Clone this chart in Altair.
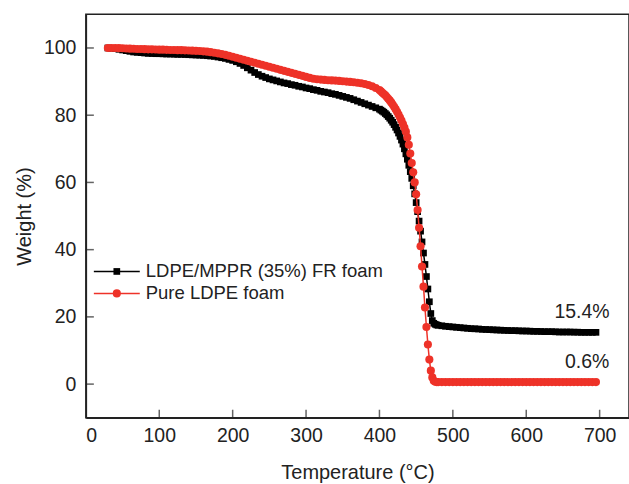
import altair as alt
import pandas as pd

# TGA curves: temperature (°C) and remaining weight (%)
fr_temp = [
    30, 35, 40, 45, 50, 55, 60, 65, 70, 75,
    80, 85, 90, 95, 100, 105, 110, 115, 120, 125,
    130, 135, 140, 145, 150, 155, 160, 165, 170, 175,
    180, 185, 190, 195, 200, 205, 210, 215, 220, 225,
    230, 235, 240, 245, 250, 255, 260, 265, 270, 275,
    280, 285, 290, 295, 300, 305, 310, 315, 320, 325,
    330, 335, 340, 345, 350, 355, 360, 365, 370, 375,
    380, 385, 390, 395, 400,
    402, 404, 406, 408, 410, 412, 414, 416, 418, 420,
    422, 424, 426, 428, 430, 432, 434, 436, 438, 440,
    442, 444, 446, 448, 450, 452, 454, 456, 458, 460,
    462, 464, 466, 468, 470, 472, 474, 476, 478,
    480, 485, 490, 495, 500, 505, 510, 515, 520, 525,
    530, 535, 540, 545, 550, 555, 560, 565, 570, 575,
    580, 585, 590, 595, 600, 605, 610, 615, 620, 625,
    630, 635, 640, 645, 650, 655, 660, 665, 670, 675,
    680, 685, 690, 695,
]
fr_weight = [
    100.0, 99.9, 99.8, 99.6, 99.4, 99.2, 99.0, 98.8, 98.7, 98.6,
    98.5, 98.4, 98.35, 98.3, 98.3, 98.25, 98.2, 98.2, 98.15, 98.1,
    98.1, 98.05, 98.0, 97.95, 97.9, 97.85, 97.8, 97.7, 97.6, 97.5,
    97.3, 97.1, 96.9, 96.6, 96.3, 95.9, 95.4, 94.8, 94.1, 93.4,
    92.7, 92.1, 91.6, 91.2, 90.8, 90.5, 90.2, 89.9, 89.6, 89.4,
    89.1, 88.9, 88.6, 88.4, 88.1, 87.9, 87.6, 87.4, 87.1, 86.9,
    86.7, 86.4, 86.2, 85.9, 85.6, 85.3, 85.0, 84.6, 84.2, 83.8,
    83.4, 83.0, 82.6, 82.2, 81.8,
    81.5, 81.2, 80.9, 80.5, 80.1, 79.6, 79.1, 78.5, 77.9, 77.2,
    76.4, 75.6, 74.7, 73.7, 72.6, 71.4, 70.0, 68.5, 66.9, 65.1,
    63.2, 61.2, 59.0, 56.6, 54.0, 51.3, 48.5, 45.5, 42.3, 39.0,
    35.6, 32.0, 28.3, 24.5, 21.0, 18.9, 18.1, 17.8, 17.6,
    17.5, 17.35, 17.2, 17.1, 17.0, 16.9, 16.8, 16.7, 16.6, 16.5,
    16.45, 16.4, 16.3, 16.25, 16.2, 16.15, 16.1, 16.05, 16.0, 15.95,
    15.9, 15.9, 15.85, 15.8, 15.8, 15.75, 15.7, 15.7, 15.65, 15.6,
    15.6, 15.6, 15.55, 15.5, 15.5, 15.5, 15.5, 15.45, 15.45, 15.4,
    15.4, 15.4, 15.4, 15.4,
]

pure_temp = list(fr_temp)
pure_weight = [
    100.0, 100.0, 100.0, 99.95, 99.9, 99.85, 99.8, 99.75, 99.7, 99.7,
    99.65, 99.6, 99.6, 99.55, 99.5, 99.5, 99.45, 99.4, 99.4, 99.35,
    99.35, 99.3, 99.25, 99.2, 99.15, 99.1, 99.0, 98.9, 98.75, 98.6,
    98.4, 98.2, 97.95, 97.7, 97.4, 97.1, 96.8, 96.5, 96.2, 95.9,
    95.6, 95.3, 95.0, 94.7, 94.4, 94.1, 93.8, 93.5, 93.2, 92.9,
    92.6, 92.3, 92.0, 91.7, 91.4, 91.1, 90.85, 90.7, 90.6, 90.5,
    90.4, 90.35, 90.3, 90.2, 90.1, 90.0, 89.9, 89.8, 89.65, 89.5,
    89.3, 89.0, 88.6, 88.1, 87.5,
    87.1, 86.7, 86.3, 85.9, 85.4, 84.9, 84.4, 83.8, 83.2, 82.5,
    81.8, 81.0, 80.2, 79.3, 78.4, 77.4, 76.3, 75.1, 73.4, 71.2,
    68.6, 65.8, 63.0, 60.0, 56.5, 51.8, 46.5, 41.0, 35.0, 29.0,
    22.8, 17.0, 11.8, 7.3, 4.0, 2.0, 1.0, 0.7, 0.6,
    0.6, 0.6, 0.6, 0.6, 0.6, 0.6, 0.6, 0.6, 0.6, 0.6,
    0.6, 0.6, 0.6, 0.6, 0.6, 0.6, 0.6, 0.6, 0.6, 0.6,
    0.6, 0.6, 0.6, 0.6, 0.6, 0.6, 0.6, 0.6, 0.6, 0.6,
    0.6, 0.6, 0.6, 0.6, 0.6, 0.6, 0.6, 0.6, 0.6, 0.6,
    0.6, 0.6, 0.6, 0.6,
]

series_names = ["LDPE/MPPR (35%) FR foam", "Pure LDPE foam"]
x_tick_values = [100, 200, 300, 400, 500, 600, 700]
y_tick_values = [0, 20, 40, 60, 80, 100]
label_temp = [676, 683]

FONT = "Liberation Sans"
INK = "#222222"
RED = "#EE3228"
W, H = 544, 404

fr = pd.DataFrame({"T": fr_temp, "W": fr_weight})
pure = pd.DataFrame({"T": pure_temp, "W": pure_weight})
xt = pd.DataFrame({"T": x_tick_values})
yt = pd.DataFrame({"W": y_tick_values})
ends = pd.DataFrame({
    "T": label_temp,
    "W": [fr_weight[-1], pure_weight[-1]],
    "label": [f"{fr_weight[-1]}%", f"{pure_weight[-1]}%"],
})
one_row = pd.DataFrame({"k": [0]})

x_scale = alt.Scale(domain=[0, 740], nice=False, zero=False)
y_scale = alt.Scale(domain=[-10, 110], nice=False, zero=False)
x_axis = alt.Axis(values=[0] + x_tick_values, title="Temperature (°C)",
                  titlePadding=17, labelPadding=9)
y_axis = alt.Axis(values=y_tick_values, title="Weight (%)",
                  titlePadding=9, labelPadding=10)
X = alt.X("T:Q", scale=x_scale, axis=x_axis)
Y = alt.Y("W:Q", scale=y_scale, axis=y_axis)

fr_line = alt.Chart(fr).mark_line(color="black", strokeWidth=1.5).encode(x=X, y=Y)
fr_pts = alt.Chart(fr).mark_point(shape="square", filled=True, size=45,
                                  opacity=1, color="black").encode(x=X, y=Y)
pure_line = alt.Chart(pure).mark_line(color=RED, strokeWidth=1.5).encode(x=X, y=Y)
pure_pts = alt.Chart(pure).mark_point(shape="circle", filled=True, size=66,
                                      opacity=1, color=RED).encode(x=X, y=Y)

# inward tick marks on both axes
x_ticks = alt.Chart(xt).mark_tick(orient="vertical", size=8, thickness=1.5,
                                  color=INK).encode(x=X, y=alt.value(H - 4))
y_ticks = alt.Chart(yt).mark_tick(orient="horizontal", size=8, thickness=1.5,
                                  color=INK).encode(y=Y, x=alt.value(4))

# residue labels at the end of each curve
end_labels = alt.Chart(ends).mark_text(
    font=FONT, fontSize=19.5, color=INK, dy=-20, baseline="middle"
).encode(x=X, y=Y, text="label:N")

# legend: line segment with marker and series name
def legend_entry(y, color, shape, size, name):
    seg = alt.Chart(one_row).mark_rule(color=color, strokeWidth=1.5).encode(
        x=alt.value(8), x2=alt.value(54), y=alt.value(y))
    mark = alt.Chart(one_row).mark_point(shape=shape, filled=True, size=size,
                                         opacity=1, color=color).encode(
        x=alt.value(31), y=alt.value(y))
    txt = alt.Chart(one_row).mark_text(font=FONT, fontSize=18.5, color=INK,
                                       align="left", baseline="middle").encode(
        x=alt.value(60), y=alt.value(y), text=alt.value(name))
    return [seg, mark, txt]

legend = (legend_entry(257.5, "black", "square", 45, series_names[0])
          + legend_entry(279.5, RED, "circle", 66, series_names[1]))

chart = alt.layer(
    fr_line, fr_pts, pure_line, pure_pts, x_ticks, y_ticks, end_labels, *legend
).properties(
    width=W, height=H,
    padding={"left": 86, "top": 14, "right": 0, "bottom": 66},
    autosize=alt.AutoSizeParams(type="none"),
).configure_view(
    stroke=INK, strokeWidth=1.5
).configure_axis(
    ticks=False, tickSize=0, grid=False,
    domainColor=INK, domainWidth=1.5,
    labelFont=FONT, labelFontSize=19.5, labelColor=INK,
    titleFont=FONT, titleFontSize=20, titleFontWeight="normal", titleColor=INK,
)

chart.save("out.html", embed_options={"renderer": "svg", "actions": False})
